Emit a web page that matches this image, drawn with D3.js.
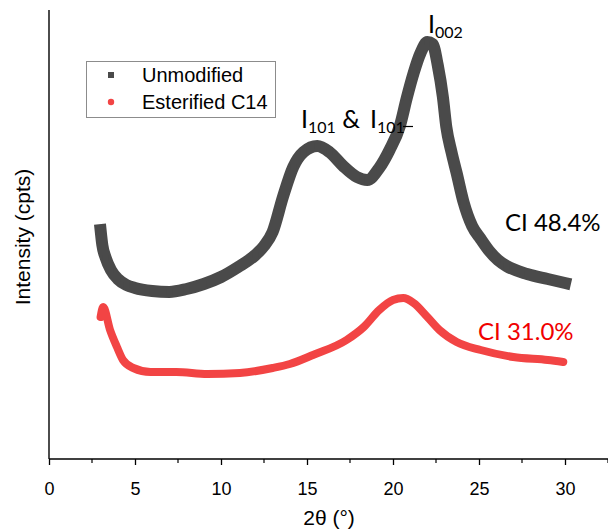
<!DOCTYPE html>
<html>
<head>
<meta charset="utf-8">
<script src="https://cdn.jsdelivr.net/npm/d3@7"></script>
<style>
  html, body { margin: 0; padding: 0; background: #fff; }
  svg { display: block; }
</style>
</head>
<body>
<svg id="chart" width="608" height="529"></svg>
<script>
// ---- data ----
const xTicks = [0, 5, 10, 15, 20, 25, 30];
const seriesNames = ["Unmodified", "Esterified C14"];

const unmodX = [3.0, 3.1, 3.3, 3.6, 4.0, 4.5, 5.0, 6.0, 7.0, 8.0, 9.0, 10.0, 11.0, 12.0, 12.5, 13.0,
  13.6, 14.2, 14.8, 15.6, 16.3, 17.1, 17.9, 18.5, 19.2, 19.8, 20.4, 20.8, 21.2, 21.6, 22.0, 22.3,
  22.6, 22.9, 23.1, 23.4, 23.7, 24.1, 24.6, 25.1, 25.6, 26.1, 26.6, 27.8, 29.0, 30.0];
const unmodY = [2290, 2140, 2010, 1890, 1800, 1740, 1710, 1680, 1670, 1700, 1750, 1820, 1920, 2040, 2130, 2270,
  2620, 2920, 3070, 3130, 3070, 2930, 2820, 2790, 2910, 3090, 3330, 3610, 3860, 4060, 4170, 4150,
  3940, 3620, 3320, 3070, 2860, 2570, 2330, 2200, 2080, 1990, 1930, 1850, 1800, 1760];

const esterX = [3.0, 3.15, 3.55, 3.95, 4.3, 4.9, 5.9, 7.4, 9.2, 11.1, 13.0, 14.0, 15.35, 17.3, 18.3, 19.2,
  20.0, 20.6, 21.2, 22.0, 22.7, 23.7, 25.1, 27.0, 29.0, 29.9];
const esterY = [1420, 1520, 1290, 1120, 990, 910, 870, 870, 850, 860, 910, 950, 1040, 1190, 1320, 1490,
  1590, 1610, 1560, 1420, 1290, 1170, 1090, 1020, 990, 970];

const ciLabels = ["CI 48.4%", "CI 31.0%"];

// ---- layout ----
const svg = d3.select("#chart");
const mLeft = 49, mRight = 608, mTop = 10, mBottom = 459;
const x = d3.scaleLinear().domain([0, 32.5]).range([mLeft, mRight]);
const y = d3.scaleLinear().domain([0, 4490]).range([mBottom, mTop]);

const greyCol = "#4a4a4a";
const redCol = "#f24444";
const sans = "'Liberation Sans', Arial, sans-serif";

// axes
const xAxis = d3.axisBottom(x).tickValues(xTicks).tickSize(6).tickPadding(17).tickFormat(d3.format("d"));
const gx = svg.append("g").attr("transform", `translate(0,${mBottom})`).call(xAxis);
gx.select(".domain").attr("stroke", "#000").attr("stroke-width", 1.4).attr("d", `M${mLeft},0H${mRight}`);
gx.selectAll(".tick line").attr("stroke", "#000").attr("stroke-width", 1.3);
gx.selectAll(".tick text").attr("font-family", sans).attr("font-size", 18).attr("fill", "#000");
// minor ticks
const minor = d3.range(2.5, 32.6, 5);
gx.selectAll(".minor").data(minor).enter().append("line")
  .attr("x1", d => x(d)).attr("x2", d => x(d)).attr("y1", 0).attr("y2", 4)
  .attr("stroke", "#000").attr("stroke-width", 1.2);

// y axis (no ticks)
svg.append("line").attr("x1", mLeft).attr("x2", mLeft).attr("y1", mTop).attr("y2", mBottom)
  .attr("stroke", "#000").attr("stroke-width", 1.4);

// axis titles
svg.append("text").attr("x", 329).attr("y", 525).attr("text-anchor", "middle")
  .attr("font-family", sans).attr("font-size", 21).text("2θ (°)");
svg.append("text").attr("transform", "translate(30,237) rotate(-90)").attr("text-anchor", "middle")
  .attr("font-family", sans).attr("font-size", 21).text("Intensity (cpts)");

// series
const line = d3.line().x(d => x(d[0])).y(d => y(d[1])).curve(d3.curveMonotoneX);
const unmod = unmodX.map((v, i) => [v, unmodY[i]]);
const ester = esterX.map((v, i) => [v, esterY[i]]);

svg.append("path").attr("d", line(ester)).attr("fill", "none").attr("stroke", redCol)
  .attr("stroke-width", 8).attr("stroke-linejoin", "round").attr("stroke-linecap", "round");
svg.append("path").attr("d", line(unmod)).attr("fill", "none").attr("stroke", greyCol)
  .attr("stroke-width", 12).attr("stroke-linejoin", "round").attr("stroke-linecap", "square");
svg.selectAll(".sq").data(unmod).enter().append("rect")
  .attr("x", d => x(d[0]) - 3).attr("y", d => y(d[1]) - 3).attr("width", 6).attr("height", 6)
  .attr("fill", greyCol);

// legend
const lg = svg.append("g");
lg.append("rect").attr("x", 86.5).attr("y", 61.5).attr("width", 189).attr("height", 56)
  .attr("fill", "#fff").attr("stroke", "#8c8c8c").attr("stroke-width", 1);
lg.append("rect").attr("x", 108).attr("y", 72).attr("width", 6).attr("height", 6).attr("fill", greyCol);
lg.append("circle").attr("cx", 111).attr("cy", 102).attr("r", 3.2).attr("fill", redCol);
lg.selectAll(".lt").data(seriesNames).enter().append("text")
  .attr("x", 142).attr("y", (d, i) => 82 + i * 27)
  .attr("font-family", sans).attr("font-size", 20).attr("fill", "#000")
  .text(d => d);

// annotations
const annFont = "Lato, 'Open Sans', sans-serif";
function peakLabel(px, py, sub, suffix) {
  const t = svg.append("text").attr("x", px).attr("y", py).attr("font-family", annFont).attr("font-size", 25).attr("fill", "#000");
  t.append("tspan").text("I");
  t.append("tspan").attr("font-size", 16).attr("dy", 5).text(sub);
  if (suffix) t.append("tspan").attr("font-size", 25).attr("dy", -5).text(suffix);
  return t;
}
peakLabel(428, 33, "002");
peakLabel(301, 128, "101", " & ");
const t2 = svg.append("text").attr("x", 370).attr("y", 128).attr("font-family", annFont).attr("font-size", 25).attr("fill", "#000");
t2.append("tspan").text("I");
t2.append("tspan").attr("font-size", 16).attr("dy", 5).text("101");
svg.append("line").attr("x1", 403).attr("x2", 413).attr("y1", 126.5).attr("y2", 126.5).attr("stroke", "#000").attr("stroke-width", 1.2);

svg.append("text").attr("x", 505).attr("y", 231).attr("font-family", annFont).attr("font-size", 24).attr("fill", "#000").text(ciLabels[0]);
svg.append("text").attr("x", 478).attr("y", 340).attr("font-family", annFont).attr("font-size", 24).attr("fill", "#f00000").text(ciLabels[1]);
</script>
</body>
</html>
